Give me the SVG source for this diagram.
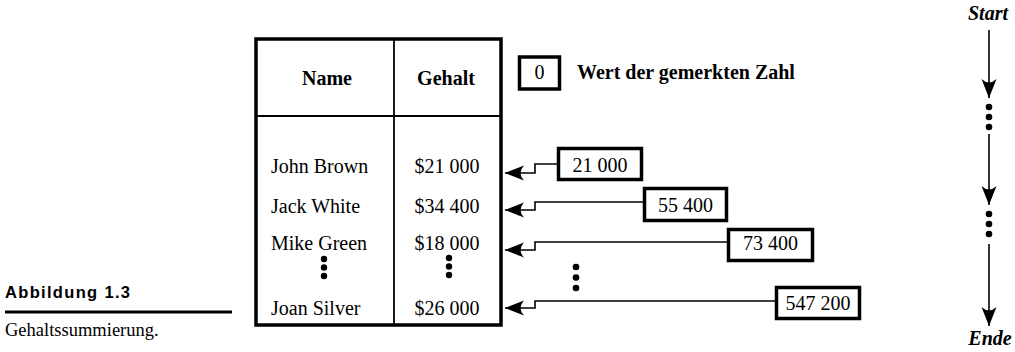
<svg xmlns="http://www.w3.org/2000/svg" width="1015" height="352" viewBox="0 0 1015 352">
<style>
.serif{font-family:"Liberation Serif","Times New Roman",serif;font-size:20px;fill:#000}
.b{font-weight:bold}
.bi{font-weight:bold;font-style:italic}
.mid{text-anchor:middle}
.box{fill:#fff;stroke:#000;stroke-width:3.5}
.conn{fill:none;stroke:#000;stroke-width:1.6}
.sans{font-family:"Liberation Sans",Arial,sans-serif;font-weight:bold;font-size:16.5px}
</style>
<defs>
<marker id="ah" markerUnits="userSpaceOnUse" viewBox="-20 -8 21 16" refX="0" refY="0" markerWidth="21" markerHeight="16" orient="auto">
<path d="M0,0 L-19,-7.5 Q-12,0 -19,7.5 Z" fill="#000"/>
</marker>
</defs>
<rect width="1015" height="352" fill="#fff"/>

<g id="caption">
<text class="sans" x="5" y="298" textLength="125" lengthAdjust="spacing">Abbildung  1.3</text>
<line x1="5" y1="312" x2="232" y2="312" stroke="#000" stroke-width="3"/>
<text class="serif" x="5" y="336" style="font-size:18.5px">Gehaltssummierung.</text>
</g>

<g id="table">
<rect x="256" y="39" width="245" height="286" fill="#fff" stroke="#000" stroke-width="3.5"/>
<line x1="394" y1="39" x2="394" y2="325" stroke="#000" stroke-width="1.8"/>
<line x1="256" y1="116" x2="501" y2="116" stroke="#000" stroke-width="1.8"/>
<text class="serif b mid" x="327" y="85">Name</text>
<text class="serif b mid" x="446" y="85">Gehalt</text>
<text class="serif" x="271" y="173">John Brown</text>
<text class="serif" x="271" y="213">Jack White</text>
<text class="serif" x="271" y="250">Mike Green</text>
<text class="serif" x="271" y="315">Joan Silver</text>
<text class="serif mid" x="447" y="173">$21 000</text>
<text class="serif mid" x="447" y="213">$34 400</text>
<text class="serif mid" x="447" y="250">$18 000</text>
<text class="serif mid" x="447" y="315">$26 000</text>
<circle cx="324" cy="259" r="3.2"/><circle cx="324" cy="267.5" r="3.2"/><circle cx="324" cy="276" r="3.2"/>
<circle cx="449" cy="258" r="3.2"/><circle cx="449" cy="266.5" r="3.2"/><circle cx="449" cy="275" r="3.2"/>
</g>

<g id="memo">
<rect class="box" x="519.5" y="57" width="40" height="32"/>
<text class="serif mid" x="539.5" y="79">0</text>
<text class="serif b" x="577" y="79">Wert der gemerkten Zahl</text>
</g>

<g id="box1"><rect class="box" x="558.5" y="148.5" width="83" height="31"/><text class="serif mid" x="600" y="172">21 000</text></g>
<g id="box2"><rect class="box" x="644.5" y="188.5" width="82" height="32"/><text class="serif mid" x="685.5" y="212">55 400</text></g>
<g id="box3"><rect class="box" x="728.5" y="229.5" width="84" height="31"/><text class="serif mid" x="770.5" y="250">73 400</text></g>
<g id="box4"><rect class="box" x="776.5" y="287.5" width="83" height="31"/><text class="serif mid" x="818" y="310">547 200</text></g>

<g id="dots-mid">
<circle cx="576" cy="267" r="3.3"/><circle cx="576" cy="277.5" r="3.3"/><circle cx="576" cy="288" r="3.3"/>
</g>

<g id="connectors">
<path class="conn" d="M557,164 H535 V173 H505" marker-end="url(#ah)"/>
<path class="conn" d="M643,202 H535 V210 H505" marker-end="url(#ah)"/>
<path class="conn" d="M727,242 H535 V250 H505" marker-end="url(#ah)"/>
<path class="conn" d="M775,301 H535 V308 H505" marker-end="url(#ah)"/>
<line class="conn" x1="989" y1="30" x2="989" y2="98" marker-end="url(#ah)"/>
<line class="conn" x1="989" y1="134" x2="989" y2="205" marker-end="url(#ah)"/>
<line class="conn" x1="989" y1="244" x2="989" y2="326" marker-end="url(#ah)"/>
</g>

<g id="flow">
<text class="serif bi mid" x="988" y="20">Start</text>
<circle cx="989" cy="107" r="3.3"/><circle cx="989" cy="117" r="3.3"/><circle cx="989" cy="127" r="3.3"/>
<circle cx="989" cy="214" r="3.3"/><circle cx="989" cy="224" r="3.3"/><circle cx="989" cy="234" r="3.3"/>
<text class="serif bi mid" x="990" y="345">Ende</text>
</g>
</svg>
